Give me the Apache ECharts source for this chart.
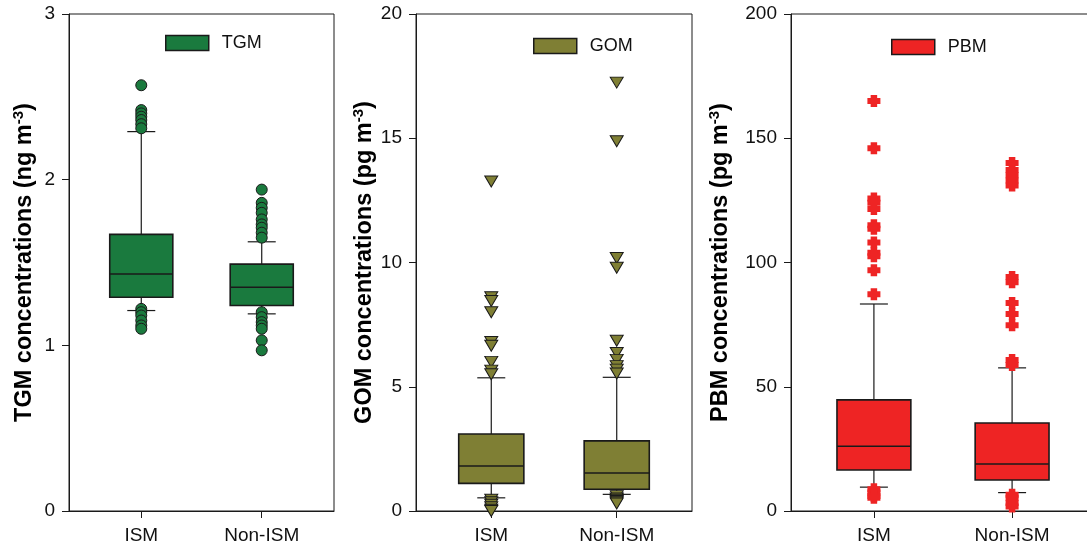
<!DOCTYPE html>
<html>
<head>
<meta charset="utf-8">
<script src="https://cdn.jsdelivr.net/npm/echarts@6/dist/echarts.min.js"></script>
<style>
html,body{margin:0;padding:0;background:#fff;}
#c{width:1087px;height:553px;}
</style>
</head>
<body>
<div id="c"></div>
<script>
// ---- data ----
const categories = ['ISM', 'Non-ISM'];
// box stats per category: [low whisker, q1, median, q3, high whisker]
const tgmBox = [[1.21, 1.29, 1.43, 1.67, 2.29], [1.19, 1.24, 1.35, 1.49, 1.625]];
const gomBox = [[0.53, 1.11, 1.81, 3.10, 5.36], [0.67, 0.875, 1.53, 2.82, 5.38]];
const pbmBox = [[9.6, 16.5, 26.1, 44.7, 83.3], [7.4, 12.5, 18.9, 35.4, 57.6]];
// outliers per category
const tgmOut = [
  [2.57, 2.42, 2.40, 2.38, 2.36, 2.335, 2.31, 1.22, 1.20, 1.18, 1.15, 1.12, 1.10],
  [1.94, 1.86, 1.83, 1.80, 1.76, 1.73, 1.71, 1.68, 1.65, 1.20, 1.17, 1.14, 1.12, 1.10, 1.03, 0.97]
];
const gomOut = [
  [13.26, 8.6, 8.45, 8.0, 6.8, 6.65, 6.0, 5.65, 5.5, 0.45, 0.35, 0.25, 0.15, 0.05, 0.0],
  [17.24, 14.88, 10.18, 9.79, 6.85, 6.36, 6.08, 5.83, 5.69, 5.53, 0.6, 0.5, 0.45, 0.4, 0.35, 0.3]
];
const pbmOut = [
  [165.0, 146.0, 125.8, 124.0, 121.5, 115.0, 113.6, 108.0, 103.9, 102.5, 96.9, 87.2, 8.75, 7.4, 6.0, 5.3],
  [140.0, 137.2, 135.1, 133.0, 131.0, 94.2, 92.1, 83.75, 79.3, 74.7, 60.8, 58.75, 6.5, 5.3, 3.2, 1.8]
];
const yTicks = [[0, 3, 1], [0, 20, 5], [0, 200, 50]];
const seriesNames = ['TGM', 'GOM', 'PBM'];
const yTitles = [
  ['TGM concentrations (ng m', '-3', ')'],
  ['GOM concentrations (pg m', '-3', ')'],
  ['PBM concentrations (pg m', '-3', ')']
];

// ---- layout/styling ----
const FONT = 'Liberation Sans, Arial, sans-serif';
const colors = ['#1a7a3e', '#7f7f34', '#ee2424'];
const edge = '#1a1a1a';
const slots = 12;               // category slots on the x axis
const slotIdx = [3, 8];         // where ISM / Non-ISM sit
const grids = [
  {left: 69, top: 14, width: 265, height: 497},
  {left: 416, top: 14, width: 276, height: 497},
  {left: 791, top: 14, width: 304, height: 497}
];
const nameGaps = [30, 37, 56];
const legendPos = [[165, 34], [533, 37], [891, 38]];
const boxFrac = [0.238, 0.236, 0.243];
const symbols = [
  {symbol: 'circle', size: 11, rotate: 0, border: 1},
  {symbol: 'triangle', size: [13, 11], rotate: 180, border: 1},
  {symbol: 'path://M2.5,0H7.5V2.5H10V7.5H7.5V10H2.5V7.5H0V2.5H2.5Z', size: [13, 12], rotate: 0, border: 0}
];

const xData = [];
for (let i = 0; i < slots; i++) xData.push('');
slotIdx.forEach((s, i) => xData[s] = categories[i]);

function makeRender(color, frac) {
  return function (params, api) {
    const x = api.value(0);
    const lo = api.coord([x, api.value(1)]);
    const q1 = api.coord([x, api.value(2)]);
    const med = api.coord([x, api.value(3)]);
    const q3 = api.coord([x, api.value(4)]);
    const hi = api.coord([x, api.value(5)]);
    const cx = q1[0];
    const bw = params.coordSys.width * frac;
    const cw = 28;
    const ln = (x1, y1, x2, y2, w) => ({type: 'line', shape: {x1, y1, x2, y2}, style: {stroke: edge, lineWidth: w}});
    return {
      type: 'group',
      children: [
        ln(cx, q3[1], cx, hi[1], 1.2),
        ln(cx, q1[1], cx, lo[1], 1.2),
        ln(cx - cw / 2, hi[1], cx + cw / 2, hi[1], 1.2),
        ln(cx - cw / 2, lo[1], cx + cw / 2, lo[1], 1.2),
        {type: 'rect', shape: {x: cx - bw / 2, y: q3[1], width: bw, height: q1[1] - q3[1]},
          style: {fill: color, stroke: edge, lineWidth: 1.6}},
        ln(cx - bw / 2, med[1], cx + bw / 2, med[1], 1.5)
      ]
    };
  };
}

const boxes = [tgmBox, gomBox, pbmBox];
const outs = [tgmOut, gomOut, pbmOut];

const option = {
  animation: false,
  backgroundColor: '#fff',
  textStyle: {fontFamily: FONT},
  grid: grids.map(g => Object.assign({show: true, borderColor: edge, borderWidth: 1, backgroundColor: 'transparent',
    containLabel: false, outerBoundsMode: 'none'}, g)),
  legend: seriesNames.map((n, i) => ({
    data: [{name: n, icon: 'rect', itemStyle: {color: colors[i], borderColor: edge, borderWidth: 1.5}}],
    left: legendPos[i][0], top: legendPos[i][1], padding: 0,
    itemWidth: 43, itemHeight: 15, selectedMode: false,
    textStyle: {fontFamily: FONT, fontSize: 18, color: '#111', padding: [0, 0, 0, 8]}
  })),
  xAxis: grids.map((g, i) => ({
    type: 'category', gridIndex: i, data: xData, boundaryGap: false,
    axisLine: {show: true, lineStyle: {color: edge, width: 1}},
    axisTick: {show: true, inside: false, length: 7, lineStyle: {color: edge}, interval: (idx) => slotIdx.indexOf(idx) >= 0},
    axisLabel: {interval: 0, fontFamily: FONT, fontSize: 19, color: '#111', margin: 15},
    splitLine: {show: false}
  })),
  yAxis: grids.map((g, i) => ({
    type: 'value', gridIndex: i, min: yTicks[i][0], max: yTicks[i][1], interval: yTicks[i][2],
    axisLine: {show: true, lineStyle: {color: edge, width: 1}},
    axisTick: {show: true, inside: false, length: 7, lineStyle: {color: edge}},
    axisLabel: {fontFamily: FONT, fontSize: 19, color: '#111', margin: 14},
    splitLine: {show: false},
    name: '{t|' + yTitles[i][0] + '}{s|' + yTitles[i][1] + '}{t|' + yTitles[i][2] + '}',
    nameLocation: 'middle', nameGap: nameGaps[i], nameRotate: 90, nameMoveOverlap: false,
    nameTextStyle: {
      rich: {
        t: {fontFamily: FONT, fontSize: 23.5, fontWeight: 'bold', color: '#000', lineHeight: 28, verticalAlign: 'middle'},
        s: {fontFamily: FONT, fontSize: 15, fontWeight: 'bold', color: '#000', lineHeight: 15, verticalAlign: 'top'}
      }
    }
  })),
  series: []
};

seriesNames.forEach((n, i) => {
  option.series.push({
    type: 'custom', name: n, xAxisIndex: i, yAxisIndex: i,
    itemStyle: {color: colors[i]},
    renderItem: makeRender(colors[i], boxFrac[i]),
    encode: {x: 0, y: [1, 2, 3, 4, 5]},
    data: boxes[i].map((b, k) => [slotIdx[k]].concat(b)),
    z: 2
  });
  const pts = [];
  outs[i].forEach((arr, k) => arr.forEach(v => pts.push([slotIdx[k], v])));
  option.series.push({
    type: 'scatter', name: n + ' outliers', xAxisIndex: i, yAxisIndex: i,
    symbol: symbols[i].symbol, symbolSize: symbols[i].size, symbolRotate: symbols[i].rotate,
    itemStyle: {color: colors[i], borderColor: edge, borderWidth: symbols[i].border, opacity: 1},
    data: pts, z: 3
  });
});

const chart = echarts.init(document.getElementById('c'), null, {renderer: 'canvas'});
chart.setOption(option);
</script>
</body>
</html>
